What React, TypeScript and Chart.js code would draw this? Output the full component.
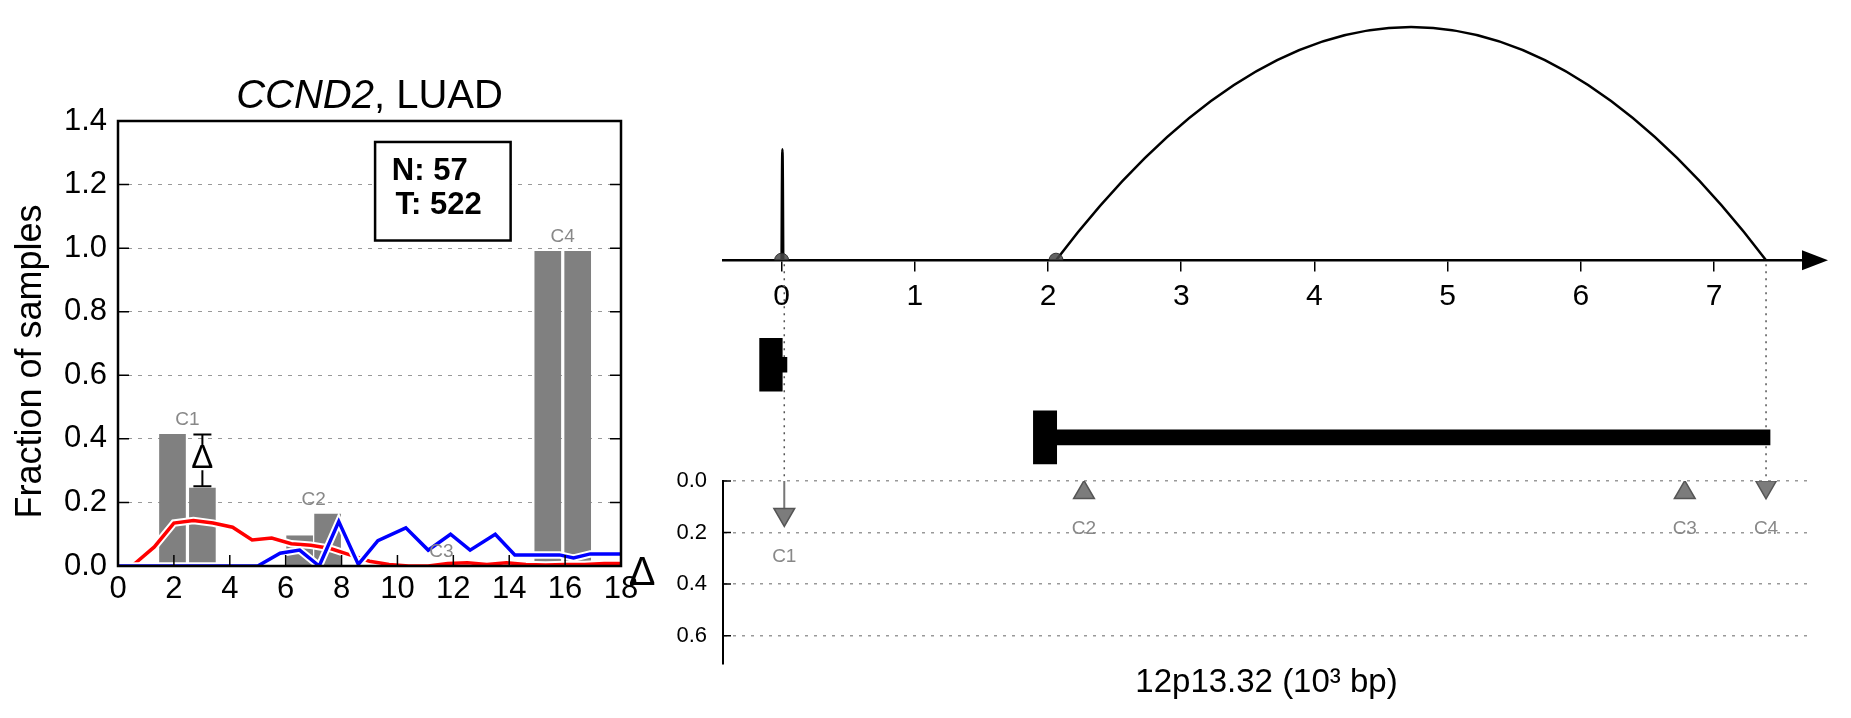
import React, { useEffect, useRef } from 'react';
import { Chart, registerables } from 'chart.js';

Chart.register(...registerables);

const FONT = '"Liberation Sans", Arial, Helvetica, sans-serif';
Chart.defaults.font.family = FONT;
Chart.defaults.color = '#000';

// ---------------- Left panel data ----------------
const leftTitleGene = 'CCND2';
const leftTitleCohort = ', LUAD';
const leftYAxisTitle = 'Fraction of samples';
const leftXTicks = [0, 2, 4, 6, 8, 10, 12, 14, 16, 18];
const leftYTicks = [0, 0.2, 0.4, 0.6, 0.8, 1.0, 1.2, 1.4];

const clusterNames = ['C1', 'C2', 'C3', 'C4'];
const normalBarX = [1.95, 6.5, 11.05, 15.38];
const normalBarY = [0.414, 0.095, 0.0, 0.99];
const tumorBarX = [3.02, 7.5, 12.1, 16.45];
const tumorBarY = [0.245, 0.163, 0.0, 0.99];

const redX = [0.5, 1.3, 2.0, 2.7, 3.4, 4.1, 4.8, 5.5, 6.2, 6.9, 7.6, 8.3, 9.0, 9.7, 10.4, 11.1, 11.8, 12.5, 13.2, 13.9, 14.6, 15.3, 16.0, 16.7, 17.4, 18.0];
const redY = [0.0, 0.06, 0.135, 0.143, 0.135, 0.122, 0.082, 0.088, 0.07, 0.065, 0.055, 0.035, 0.015, 0.005, 0.0, 0.0, 0.008, 0.01, 0.005, 0.01, 0.005, 0.003, 0.005, 0.005, 0.008, 0.008];
const blueX = [0.0, 5.0, 5.8, 6.5, 7.2, 7.9, 8.6, 9.3, 10.3, 11.1, 11.9, 12.6, 13.5, 14.2, 15.0, 15.8, 16.3, 16.9, 17.5, 18.0];
const blueY = [0.0, 0.0, 0.04, 0.05, 0.0, 0.14, 0.005, 0.08, 0.12, 0.05, 0.1, 0.05, 0.1, 0.035, 0.035, 0.035, 0.025, 0.038, 0.038, 0.038];

const sampleCountLines = ['N: 57', 'T: 522'];

// ---------------- Right panel data ----------------
const genomeTicks = [0, 1, 2, 3, 4, 5, 6, 7];
const genomeAxisTitle = '12p13.32 (10³ bp)';
const junctionStart = [0.0, 2.06];
const junctionEnd = [0.012, 7.39];
const junctionHeight = [0.45, 0.945];
const transcriptRow = [1, 2];
const exonStart = [-0.165, 1.89];
const exonEnd = [0.005, 2.065];
const bodyStart = [0.005, 2.065];
const bodyEnd = [0.04, 7.42];
const deltaTicks = [0, 0.2, 0.4, 0.6];
const deltaNames = ['C1', 'C2', 'C3', 'C4'];
const deltaX = [0.02, 2.27, 6.78, 7.39];
const deltaY = [0.13, 0.045, 0.045, 0.0225];
const deltaPointsDown = [true, false, false, true];
const deltaStemEnd = [0.11, 0, 0, 0];
const guideX = [0.02, 7.39];

function zeroPadding(s: any) {
  s.paddingLeft = 0;
  s.paddingRight = 0;
  s.paddingTop = 0;
  s.paddingBottom = 0;
}

const pts = (xs: number[], ys: number[]) => xs.map((x, i) => ({ x, y: ys[i] }));

function buildLeftConfig(): any {
  const decor = {
    id: 'leftDecor',
    afterDatasetsDraw(chart: any) {
      const { ctx, chartArea: a, scales } = chart;
      const x = scales.x;
      const y = scales.y;
      ctx.save();
      // cluster labels above bar pairs
      ctx.fillStyle = '#888';
      ctx.font = `19px ${FONT}`;
      ctx.textAlign = 'center';
      ctx.textBaseline = 'alphabetic';
      clusterNames.forEach((name, i) => {
        const cx = x.getPixelForValue((normalBarX[i] + tumorBarX[i]) / 2);
        const top = y.getPixelForValue(Math.max(normalBarY[i], tumorBarY[i]));
        ctx.fillText(name, cx, top - 9);
      });
      // delta annotation on C1
      const dx = x.getPixelForValue(tumorBarX[0]);
      const yTop = y.getPixelForValue(normalBarY[0]);
      const yBot = y.getPixelForValue(tumorBarY[0]) - 2;
      const yMid = (yTop + yBot) / 2 - 2;
      ctx.strokeStyle = '#000';
      ctx.lineWidth = 2;
      ctx.beginPath();
      ctx.moveTo(dx - 9, yTop);
      ctx.lineTo(dx + 9, yTop);
      ctx.moveTo(dx, yTop);
      ctx.lineTo(dx, yMid - 13);
      ctx.moveTo(dx, yMid + 12);
      ctx.lineTo(dx, yBot);
      ctx.moveTo(dx - 9, yBot);
      ctx.lineTo(dx + 9, yBot);
      ctx.stroke();
      ctx.fillStyle = '#000';
      ctx.font = `33px ${FONT}`;
      ctx.textBaseline = 'middle';
      ctx.fillText('Δ', dx, yMid + 1);
      // sample count box
      const bx0 = x.getPixelForValue(9.2);
      const bx1 = x.getPixelForValue(14.05);
      const by0 = y.getPixelForValue(1.334);
      const by1 = y.getPixelForValue(1.024);
      ctx.fillStyle = '#fff';
      ctx.fillRect(bx0, by0, bx1 - bx0, by1 - by0);
      ctx.lineWidth = 2.5;
      ctx.strokeRect(bx0, by0, bx1 - bx0, by1 - by0);
      ctx.fillStyle = '#000';
      ctx.font = `bold 31px ${FONT}`;
      ctx.textAlign = 'left';
      ctx.textBaseline = 'middle';
      ctx.fillText(sampleCountLines[0], x.getPixelForValue(9.8), y.getPixelForValue(1.24));
      ctx.fillText(sampleCountLines[1], x.getPixelForValue(9.93), y.getPixelForValue(1.135));
      // frame
      ctx.lineWidth = 2.5;
      ctx.strokeRect(a.left, a.top, a.right - a.left, a.bottom - a.top);
      // inward ticks
      ctx.lineWidth = 1.5;
      ctx.beginPath();
      y.ticks.forEach((t: any) => {
        const py = y.getPixelForValue(t.value);
        ctx.moveTo(a.left, py);
        ctx.lineTo(a.left + 11, py);
        ctx.moveTo(a.right - 11, py);
        ctx.lineTo(a.right, py);
      });
      x.ticks.forEach((t: any) => {
        const px = x.getPixelForValue(t.value);
        ctx.moveTo(px, a.bottom);
        ctx.lineTo(px, a.bottom - 11);
      });
      ctx.stroke();
      // title
      const tf = 40;
      ctx.font = `italic ${tf}px ${FONT}`;
      const w1 = ctx.measureText(leftTitleGene).width;
      ctx.font = `${tf}px ${FONT}`;
      const w2 = ctx.measureText(leftTitleCohort).width;
      const start = (a.left + a.right) / 2 - (w1 + w2) / 2;
      ctx.textAlign = 'left';
      ctx.textBaseline = 'alphabetic';
      ctx.font = `italic ${tf}px ${FONT}`;
      ctx.fillText(leftTitleGene, start, a.top - 13);
      ctx.font = `${tf}px ${FONT}`;
      ctx.fillText(leftTitleCohort, start + w1, a.top - 13);
      // y-axis title
      ctx.translate(31, (a.top + a.bottom) / 2 + 18);
      ctx.rotate(-Math.PI / 2);
      ctx.font = `36px ${FONT}`;
      ctx.textAlign = 'center';
      ctx.textBaseline = 'middle';
      ctx.fillText(leftYAxisTitle, 0, 0);
      ctx.restore();
    },
  };

  const lineCommon = { type: 'line', pointRadius: 0, tension: 0, fill: false, xAxisID: 'x', yAxisID: 'y' };

  return {
    type: 'scatter',
    data: {
      datasets: [
        { ...lineCommon, label: 'blue', data: pts(blueX, blueY), borderColor: '#0000ff', borderWidth: 3.5, order: 1 },
        { ...lineCommon, label: 'blue halo', data: pts(blueX, blueY), borderColor: '#ffffff', borderWidth: 7.5, order: 2 },
        { ...lineCommon, label: 'red', data: pts(redX, redY), borderColor: '#ff0000', borderWidth: 3.5, order: 3 },
        { ...lineCommon, label: 'red halo', data: pts(redX, redY), borderColor: '#ffffff', borderWidth: 7.5, order: 4 },
        {
          type: 'bar', label: 'normal', data: pts(normalBarX, normalBarY), backgroundColor: '#808080',
          grouped: false, barThickness: 26, maxBarThickness: 26, order: 10, xAxisID: 'x', yAxisID: 'y',
        },
        {
          type: 'bar', label: 'tumor', data: pts(tumorBarX, tumorBarY), backgroundColor: '#808080',
          grouped: false, barThickness: 26, maxBarThickness: 26, order: 10, xAxisID: 'x', yAxisID: 'y',
        },
      ],
    },
    options: {
      responsive: false,
      animation: false,
      devicePixelRatio: 1,
      events: [],
      layout: { padding: { left: 0, right: 39, top: 121, bottom: 0 } },
      plugins: { legend: { display: false }, tooltip: { enabled: false }, title: { display: false } },
      scales: {
        x: {
          type: 'linear', min: 0, max: 18, offset: false,
          afterBuildTicks: (s: any) => { s.ticks = leftXTicks.map((v) => ({ value: v })); },
          grid: { display: false, drawTicks: false, offset: false },
          border: { display: false },
          ticks: { font: { size: 31 }, color: '#000', padding: 5, autoSkip: false, maxRotation: 0, callback: (v: any) => String(v) },
          afterFit: (s: any) => { s.height = 152; zeroPadding(s); },
        },
        y: {
          type: 'linear', min: 0, max: 1.4,
          afterBuildTicks: (s: any) => { s.ticks = leftYTicks.map((v) => ({ value: v })); },
          grid: { color: '#999', lineWidth: 1, drawTicks: false },
          border: { display: false, dash: [4, 6] },
          ticks: { font: { size: 31 }, color: '#000', padding: 11, callback: (v: any) => Number(v).toFixed(1) },
          afterFit: (s: any) => { s.width = 118; zeroPadding(s); },
        },
      },
    },
    plugins: [decor],
  };
}

function buildRightConfig(): any {
  const decor = {
    id: 'rightDecor',
    beforeDatasetsDraw(chart: any) {
      const { ctx, scales } = chart;
      const xs = scales.x;
      const ya = scales.yArc;
      const yd = scales.yDelta;
      ctx.save();
      ctx.strokeStyle = '#000';
      ctx.lineWidth = 2.5;
      junctionStart.forEach((s, i) => {
        const x0 = xs.getPixelForValue(s);
        const x1 = xs.getPixelForValue(junctionEnd[i]);
        const yb = ya.getPixelForValue(0);
        const yp = ya.getPixelForValue(junctionHeight[i]);
        ctx.beginPath();
        ctx.moveTo(x0, yb);
        ctx.quadraticCurveTo((x0 + x1) / 2, 2 * yp - yb, x1, yb);
        ctx.stroke();
      });
      ctx.setLineDash([2, 5]);
      ctx.strokeStyle = '#555';
      ctx.lineWidth = 1.5;
      guideX.forEach((gx) => {
        const px = xs.getPixelForValue(gx);
        ctx.beginPath();
        ctx.moveTo(px, ya.getPixelForValue(0) + 4);
        ctx.lineTo(px, yd.getPixelForValue(0));
        ctx.stroke();
      });
      ctx.restore();
    },
    afterDatasetsDraw(chart: any) {
      const { ctx, chartArea: a, scales } = chart;
      const xs = scales.x;
      const ya = scales.yArc;
      const yd = scales.yDelta;
      ctx.save();
      // arrow head on genomic axis
      const yb = ya.getPixelForValue(0);
      ctx.fillStyle = '#000';
      ctx.beginPath();
      ctx.moveTo(a.right - 8, yb - 10);
      ctx.lineTo(a.right + 18, yb);
      ctx.lineTo(a.right - 8, yb + 10);
      ctx.closePath();
      ctx.fill();
      // inward ticks on delta axis
      ctx.strokeStyle = '#000';
      ctx.lineWidth = 1.5;
      ctx.beginPath();
      yd.ticks.forEach((t: any) => {
        const py = yd.getPixelForValue(t.value);
        ctx.moveTo(a.left, py);
        ctx.lineTo(a.left + 8, py);
      });
      ctx.stroke();
      // delta symbol
      ctx.font = `40px ${FONT}`;
      ctx.textAlign = 'center';
      ctx.textBaseline = 'middle';
      ctx.fillText('Δ', a.left - 81, (yd.top + yd.bottom) / 2 + 1);
      // marker labels
      ctx.fillStyle = '#888';
      ctx.font = `19px ${FONT}`;
      deltaNames.forEach((name, i) => {
        const px = xs.getPixelForValue(deltaX[i]);
        const py = yd.getPixelForValue(deltaY[i]) + (deltaPointsDown[i] ? 12 : 6) + 30;
        ctx.fillText(name, px, py);
      });
      ctx.restore();
    },
  };

  const datasets: any[] = [
    {
      type: 'bar', label: 'exons', indexAxis: 'y', xAxisID: 'x', yAxisID: 'yGene',
      data: transcriptRow.map((r, i) => ({ x: [exonStart[i], exonEnd[i]], y: r })),
      backgroundColor: '#000', grouped: false, barThickness: 53, maxBarThickness: 53, order: 5,
    },
    {
      type: 'bar', label: 'bodies', indexAxis: 'y', xAxisID: 'x', yAxisID: 'yGene',
      data: transcriptRow.map((r, i) => ({ x: [bodyStart[i], bodyEnd[i]], y: r })),
      backgroundColor: '#000', grouped: false, barThickness: 15, maxBarThickness: 15, order: 5,
    },
    {
      type: 'scatter', label: 'junction starts', xAxisID: 'x', yAxisID: 'yArc',
      data: junctionStart.map((x) => ({ x, y: 0 })),
      pointRadius: 7, backgroundColor: 'rgba(70,70,70,0.85)', borderColor: 'rgba(40,40,40,0.9)', borderWidth: 1, order: 1,
    },
    {
      type: 'scatter', label: 'delta', xAxisID: 'x', yAxisID: 'yDelta',
      data: pts(deltaX, deltaY),
      pointStyle: 'triangle', pointRadius: 12, pointRotation: deltaPointsDown.map((d) => (d ? 180 : 0)),
      backgroundColor: 'rgba(110,110,110,0.9)', borderColor: 'rgba(85,85,85,1)', borderWidth: 1.5, order: 1,
    },
  ];
  deltaStemEnd.forEach((e, i) => {
    if (e > 0) {
      datasets.push({
        type: 'line', label: 'stem ' + deltaNames[i], xAxisID: 'x', yAxisID: 'yDelta',
        data: [{ x: deltaX[i], y: 0 }, { x: deltaX[i], y: e }],
        borderColor: '#777', borderWidth: 2, pointRadius: 0, order: 2,
      });
    }
  });

  return {
    type: 'scatter',
    data: { datasets },
    options: {
      responsive: false,
      animation: false,
      devicePixelRatio: 1,
      events: [],
      layout: { padding: { left: 0, right: 41, top: 10, bottom: 0 } },
      plugins: { legend: { display: false }, tooltip: { enabled: false }, title: { display: false } },
      scales: {
        x: {
          type: 'linear', min: -0.44, max: 7.72, offset: false, position: { yArc: 0 },
          afterBuildTicks: (s: any) => { s.ticks = genomeTicks.map((v) => ({ value: v })); },
          grid: { display: true, drawOnChartArea: false, drawTicks: true, tickLength: 10, color: '#000', lineWidth: 1.5, offset: false },
          border: { display: true, color: '#000', width: 2.5 },
          ticks: { font: { size: 30 }, color: '#000', padding: 9, autoSkip: false, maxRotation: 0, callback: (v: any) => String(v) },
          afterFit: (s: any) => { zeroPadding(s); },
        },
        x2: {
          type: 'linear', position: 'bottom', min: -0.44, max: 7.72, offset: false,
          grid: { display: false, drawTicks: false },
          border: { display: false },
          ticks: { display: false },
          title: { display: true, text: genomeAxisTitle, font: { size: 33 }, color: '#000', padding: { top: 0, bottom: 15 } },
          afterFit: (s: any) => { s.height = 54; zeroPadding(s); },
        },
        yDelta: {
          type: 'linear', position: 'left', stack: 'panel', stackWeight: 184, weight: 1,
          reverse: true, min: 0, max: 0.71, offset: false,
          afterBuildTicks: (s: any) => { s.ticks = deltaTicks.map((v) => ({ value: v })); },
          grid: { color: '#999', lineWidth: 1.5, drawTicks: false },
          border: { display: true, color: '#000', width: 2, dash: [3, 6] },
          ticks: { font: { size: 22 }, color: '#000', padding: 16, callback: (v: any) => Number(v).toFixed(1) },
          afterFit: (s: any) => { s.width = 123; zeroPadding(s); },
        },
        yGene: {
          type: 'linear', display: false, position: 'left', stack: 'panel', stackWeight: 222, weight: 2,
          min: -0.44, max: 2.6, reverse: true, offset: false,
        },
        yArc: {
          type: 'linear', display: false, position: 'left', stack: 'panel', stackWeight: 248, weight: 3,
          min: 0, max: 1, offset: false,
        },
      },
    },
    plugins: [decor],
  };
}

export default function App() {
  const leftRef = useRef<HTMLCanvasElement>(null);
  const rightRef = useRef<HTMLCanvasElement>(null);

  useEffect(() => {
    const left = new Chart(leftRef.current as HTMLCanvasElement, buildLeftConfig());
    const right = new Chart(rightRef.current as HTMLCanvasElement, buildRightConfig());
    return () => {
      left.destroy();
      right.destroy();
    };
  }, []);

  return (
    <div style={{ position: 'absolute', left: 0, top: 0, width: 1851, height: 718, background: '#fff', overflow: 'hidden' }}>
      <canvas ref={leftRef} width={660} height={718} style={{ position: 'absolute', left: 0, top: 0, width: 660, height: 718 }} />
      <canvas ref={rightRef} width={1251} height={718} style={{ position: 'absolute', left: 600, top: 0, width: 1251, height: 718 }} />
    </div>
  );
}
